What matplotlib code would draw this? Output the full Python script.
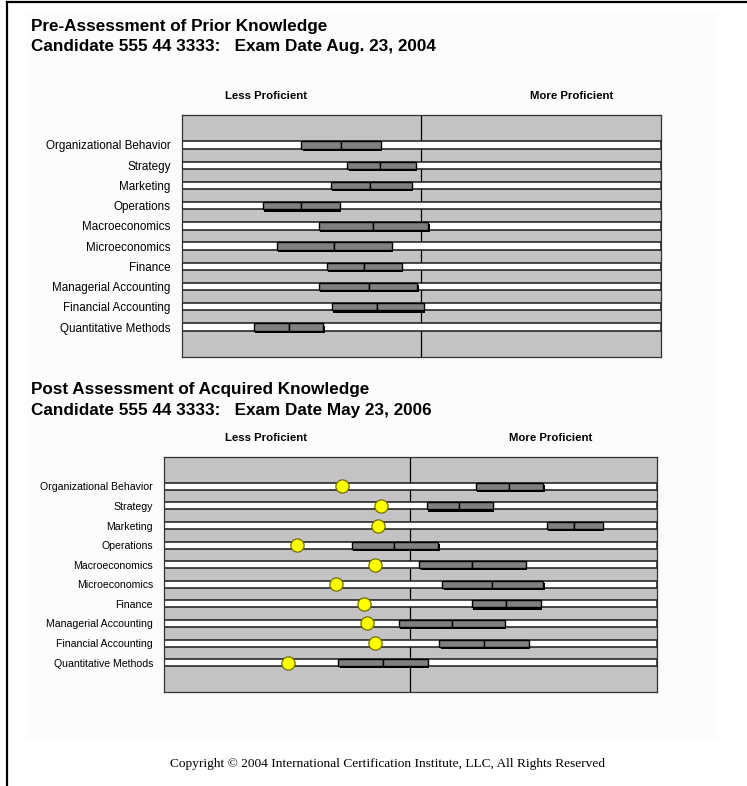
import matplotlib
matplotlib.use("Agg")
from matplotlib import pyplot as plt
from matplotlib.lines import Line2D
from matplotlib.patches import Rectangle


W, H = 747, 786

subjects = ["Organizational Behavior", "Strategy", "Marketing", "Operations",
            "Macroeconomics", "Microeconomics", "Finance",
            "Managerial Accounting", "Financial Accounting",
            "Quantitative Methods"]

# pre-assessment: low end, estimate, high end (0-100 scale)
pre_low = [25.0, 34.6, 31.2, 17.0, 28.7, 19.8, 30.3, 28.7, 31.3, 15.0]
pre_mid = [33.2, 41.5, 39.3, 25.0, 39.9, 31.8, 38.1, 39.0, 40.7, 22.3]
pre_high = [41.6, 48.9, 48.0, 33.0, 51.5, 43.8, 45.9, 49.2, 50.6, 29.6]

# post assessment
post_low = [63.3, 53.3, 77.7, 38.1, 51.8, 56.5, 62.5, 47.6, 55.9, 35.4]
post_mid = [70.0, 59.9, 83.3, 46.7, 62.5, 66.6, 69.4, 58.4, 65.0, 44.4]
post_high = [77.0, 66.8, 89.0, 55.7, 73.4, 77.0, 76.5, 69.2, 74.1, 53.6]
post_dot = [36.1, 44.0, 43.5, 26.9, 42.9, 34.9, 40.5, 41.3, 42.9, 25.2]

PLOT_BG = "#c4c2c4"
BAR_GRAY = "#808080"
FONT = "Liberation Sans"


def fx(px):
    return px / W


def fy(py):
    return 1 - py / H


def add_plot(fig, left, top, right, bottom):
    ax = fig.add_axes([fx(left), fy(bottom), (right - left) / W, (bottom - top) / H])
    ax.set_facecolor(PLOT_BG)
    ax.set_xlim(0, 100)
    ax.set_ylim(len(subjects) - 1 + 1.48, -1.48)
    ax.set_xticks([])
    ax.set_yticks([])
    for s in ax.spines.values():
        s.set_color("#333333")
        s.set_linewidth(0.9)
    return ax


def draw_rows(ax, low, mid, high, px_x, px_y, label_size):
    ys = list(range(len(subjects)))
    h = 0.36
    ax.axvline(50, color="black", lw=0.9, zorder=1)
    ax.barh(ys, [100] * len(ys), left=0, height=h, color="white",
            edgecolor="#1a1a1a", linewidth=1.1, zorder=2)
    # shadow under the range bars
    dx = 1.3 / px_x
    dy = 2.2 / px_y
    widths = [b - a for a, b in zip(low, high)]
    ax.barh([y + dy for y in ys], widths, left=[a + dx for a in low],
            height=h, color="black", linewidth=0, zorder=3)
    ax.barh(ys, [m - a for a, m in zip(low, mid)], left=low, height=h,
            color=BAR_GRAY, edgecolor="black", linewidth=1.0, zorder=4)
    ax.barh(ys, [b - m for m, b in zip(mid, high)], left=mid, height=h,
            color=BAR_GRAY, edgecolor="black", linewidth=1.0, zorder=4)
    ax.set_yticks(ys)
    ax.set_yticklabels(subjects, fontsize=label_size, family=FONT)
    ax.tick_params(axis="y", length=0, pad=8)


fig = plt.figure(figsize=(W / 100, H / 100), dpi=100)
fig.patch.set_facecolor("white")

fig.add_artist(Rectangle((fx(27), fy(738)), (716 - 27) / W, (738 - 12) / H,
                         transform=fig.transFigure, color="#fcfcfc", zorder=0))
fig.add_artist(Line2D([fx(7), fx(747)], [fy(2), fy(2)], color="black", lw=1.6))
fig.add_artist(Line2D([fx(7), fx(7)], [fy(2), fy(786)], color="black", lw=1.6))

title_kw = dict(fontsize=12.3, fontweight="bold", family=FONT, ha="left", va="center")
fig.text(fx(31), fy(26), "Pre-Assessment of Prior Knowledge", **title_kw)
fig.text(fx(31), fy(46), "Candidate 555 44 3333:   Exam Date Aug. 23, 2004", **title_kw)
fig.text(fx(31), fy(389), "Post Assessment of Acquired Knowledge", **title_kw)
fig.text(fx(31), fy(410), "Candidate 555 44 3333:   Exam Date May 23, 2006", **title_kw)

head_kw = dict(fontsize=8.2, fontweight="bold", family=FONT, ha="center", va="center")
fig.text(fx(266), fy(96), "Less Proficient", **head_kw)
fig.text(fx(572), fy(96), "More Proficient", **head_kw)
fig.text(fx(266), fy(438), "Less Proficient", **head_kw)
fig.text(fx(551), fy(438), "More Proficient", **head_kw)

ax1 = add_plot(fig, 181.7, 115, 660.7, 357)
draw_rows(ax1, pre_low, pre_mid, pre_high, 4.79, 20.15, 8.4)

ax2 = add_plot(fig, 164, 457.3, 656.7, 691.7)
draw_rows(ax2, post_low, post_mid, post_high, 4.93, 19.63, 7.6)
ax2.plot(post_dot, range(len(subjects)), "o", markersize=9.5,
         markerfacecolor="#ffff00", markeredgecolor="#707000",
         markeredgewidth=0.9, linestyle="none", zorder=5)

fig.text(fx(388), fy(764),
         "Copyright \u00a9 2004 International Certification Institute, LLC, All Rights Reserved",
         fontsize=9.6, family="Liberation Serif", ha="center", va="center")

fig.savefig("out.png", dpi=100)
